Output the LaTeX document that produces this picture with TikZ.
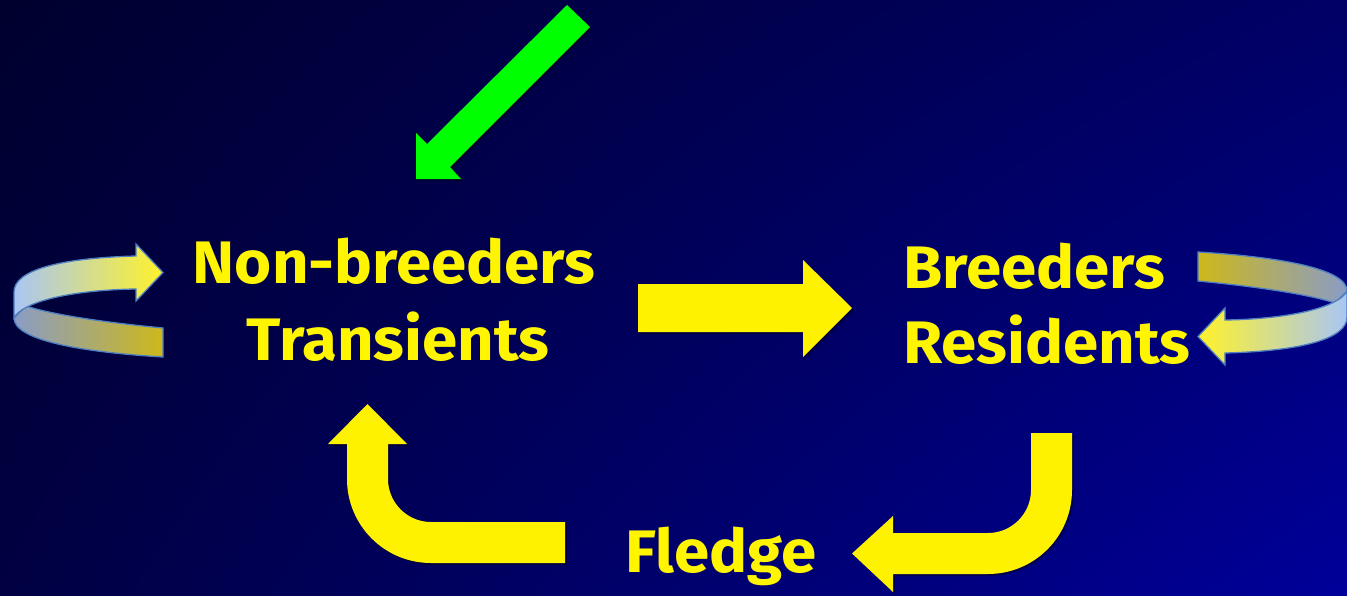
\documentclass[tikz,border=0pt]{standalone}
\usepackage{fontspec}
\usetikzlibrary{shadings}
\setmainfont{Fira Sans}
\definecolor{bgA}{HTML}{00002E}
\definecolor{bgB}{HTML}{000066}
\definecolor{bgC}{HTML}{000042}
\definecolor{bgD}{HTML}{00009A}
\definecolor{ylw}{HTML}{FFF200}
\definecolor{txty}{HTML}{FFF500}
\definecolor{grn}{HTML}{00FF00}
\definecolor{rimblue}{HTML}{4F7FC0}
\definecolor{frontL}{HTML}{A9C6F5}
\definecolor{frontR}{HTML}{FFF22A}
\definecolor{backL}{HTML}{8A9CC6}
\definecolor{backR}{HTML}{CDB81A}
\tikzset{
  lbl/.style={text=txty, font=\fontsize{60}{72}\selectfont\bfseries, inner sep=0pt, xscale=1.06},
  fatarrow/.style={fill=ylw, draw=none},
  shadowpath/.style={fill=black, opacity=0.35, draw=none},
}
% #1,#2 = back band left/right colours, #3,#4 = front band left/right colours
\newcommand{\ribbonarrow}[4]{%
  \shadedraw[left color=#1, right color=#2, draw=rimblue, line width=1.3pt]
     (163,328) .. controls (100,322) and (50,314) .. (26,306)
     -- (14,318) .. controls (14,340) and (80,352) .. (163,357) -- cycle;
  \shadedraw[left color=#3, right color=#4, draw=rimblue, line width=1.3pt]
     (136,256) -- (136,244) -- (163,272.5) -- (136,301) -- (136,289)
     .. controls (70,290) and (22,302) .. (14,318) -- (14,292)
     .. controls (14,270) and (60,258) .. (136,256) -- cycle;
}
\begin{document}
\begin{tikzpicture}[x=1pt,y=-1pt]
\useasboundingbox (0,0) rectangle (1347,595);
\shade[upper left=bgA, upper right=bgB, lower left=bgC, lower right=bgD] (0,0) rectangle (1347,595);

% green arrow
\fill[shadowpath] (569,7) -- (592,29) -- (452,169) -- (463,181) -- (418,181) -- (418,135) -- (429,146) -- cycle;
\fill[grn] (567,5) -- (590,27) -- (450,167) -- (461,179) -- (416,179) -- (416,133) -- (427,144) -- cycle;

% middle straight arrow
\fill[shadowpath] (640,286) -- (805,286) -- (805,262) -- (854,310) -- (805,359) -- (805,334) -- (640,334) -- cycle;
\fill[fatarrow] (638,284) -- (803,284) -- (803,260) -- (852,308) -- (803,357) -- (803,332) -- (638,332) -- cycle;

% lower right bent arrow
\begin{scope}[shift={(2,2)}]
\fill[shadowpath] (1031,433) -- (1072,433) -- (1072,490) .. controls (1072,536.4) and (1034.4,574) .. (988,574)
  -- (893,574) -- (893,592) -- (852,553.5) -- (893,516) -- (893,533) -- (988,533)
  .. controls (1011.7,533) and (1031,513.7) .. (1031,490) -- cycle;
\end{scope}
\fill[fatarrow] (1031,433) -- (1072,433) -- (1072,490) .. controls (1072,536.4) and (1034.4,574) .. (988,574)
  -- (893,574) -- (893,592) -- (852,553.5) -- (893,516) -- (893,533) -- (988,533)
  .. controls (1011.7,533) and (1031,513.7) .. (1031,490) -- cycle;

% lower left bent arrow
\begin{scope}[shift={(2,2)}]
\fill[shadowpath] (565,522) -- (565,563) -- (431,563) .. controls (384.6,563) and (347,525.4) .. (347,479)
  -- (347,444) -- (328,444) -- (367.5,404) -- (407,444) -- (388,444) -- (388,479)
  .. controls (388,502.7) and (407.3,522) .. (431,522) -- cycle;
\end{scope}
\fill[fatarrow] (565,522) -- (565,563) -- (431,563) .. controls (384.6,563) and (347,525.4) .. (347,479)
  -- (347,444) -- (328,444) -- (367.5,404) -- (407,444) -- (388,444) -- (388,479)
  .. controls (388,502.7) and (407.3,522) .. (431,522) -- cycle;

% ribbon arrows
\ribbonarrow{backL}{backR}{frontL}{frontR}
\begin{scope}[shift={(1361,609)}, rotate=180]
\ribbonarrow{backR}{backL}{frontR}{frontL}
\end{scope}

% labels
\node[lbl, anchor=base] (nb) at (394,283) {Non-breeders};
\node[lbl, anchor=base] (tr) at (398,360) {Transients};
\node[lbl, anchor=base west] (br) at (903,288) {Breeders};
\node[lbl, anchor=base west] (rs) at (903,363) {Residents};
\node[lbl, anchor=base west] (fl) at (625,572) {Fledge};
\end{tikzpicture}
\end{document}
